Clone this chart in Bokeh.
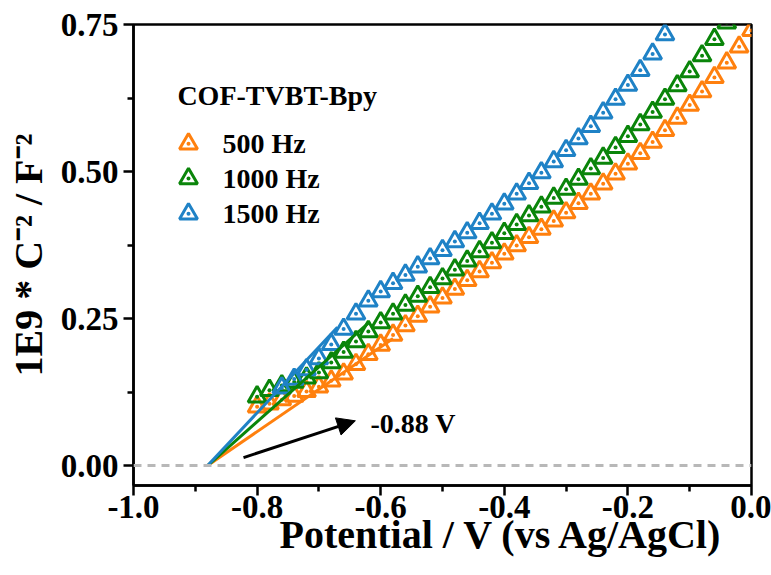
from bokeh.plotting import figure
from bokeh.models import FixedTicker, Span, Arrow, NormalHead, Title
from bokeh.core.properties import value
from bokeh.embed import file_html
from bokeh.resources import INLINE

# ---------------- data ----------------
x_500 = [-0.80, -0.78, -0.76, -0.74, -0.72, -0.70, -0.68, -0.66, -0.64, -0.62, -0.60,
         -0.58, -0.56, -0.54, -0.52, -0.50, -0.48, -0.46, -0.44, -0.42, -0.40,
         -0.38, -0.36, -0.34, -0.32, -0.30, -0.28, -0.26, -0.24, -0.22, -0.20,
         -0.18, -0.16, -0.14, -0.12, -0.10, -0.08, -0.06, -0.04, -0.02, 0.00]
y_500 = [0.100, 0.105, 0.112, 0.118, 0.126, 0.134, 0.144, 0.156, 0.172, 0.189, 0.205,
         0.222, 0.238, 0.254, 0.270, 0.285, 0.300, 0.315, 0.330, 0.345, 0.360,
         0.374, 0.388, 0.402, 0.416, 0.430, 0.446, 0.462, 0.479, 0.496, 0.513,
         0.531, 0.550, 0.570, 0.591, 0.613, 0.636, 0.660, 0.685, 0.712, 0.740]

x_1000 = list(x_500)
y_1000 = [0.117, 0.128, 0.136, 0.142, 0.149, 0.158, 0.175, 0.193, 0.211, 0.228, 0.243,
          0.258, 0.273, 0.288, 0.303, 0.318, 0.333, 0.348, 0.364, 0.379, 0.395,
          0.410, 0.425, 0.440, 0.455, 0.470, 0.487, 0.505, 0.523, 0.541, 0.560,
          0.580, 0.601, 0.623, 0.646, 0.670, 0.697, 0.725, 0.753, 0.780, 0.810]

x_1500 = [-0.76, -0.74, -0.72, -0.70, -0.68, -0.66, -0.64, -0.62, -0.60,
          -0.58, -0.56, -0.54, -0.52, -0.50, -0.48, -0.46, -0.44, -0.42, -0.40,
          -0.38, -0.36, -0.34, -0.32, -0.30, -0.28, -0.26, -0.24, -0.22, -0.20,
          -0.18, -0.16, -0.14, -0.12, -0.10]
y_1500 = [0.132, 0.147, 0.163, 0.182, 0.206, 0.232, 0.258, 0.280, 0.296,
          0.310, 0.324, 0.338, 0.352, 0.366, 0.381, 0.396, 0.412, 0.428, 0.445,
          0.462, 0.480, 0.498, 0.517, 0.536, 0.556, 0.577, 0.600, 0.623, 0.647,
          0.672, 0.700, 0.733, 0.765, 0.795]

# linear fits extrapolated to the flat-band potential
fit_x_500 = [-0.88, -0.58]
fit_y_500 = [0.0, 0.216]
fit_x_1000 = [-0.88, -0.62]
fit_y_1000 = [0.0, 0.242]
fit_x_1500 = [-0.88, -0.67]
fit_y_1500 = [0.0, 0.235]

series_labels = ["500 Hz", "1000 Hz", "1500 Hz"]
legend_title = "COF-TVBT-Bpy"
annotation_text = "-0.88 V"
x_title = "Potential / V (vs Ag/AgCl)"
y_title = "1E9 * C\u207b\u00b2 / F\u207b\u00b2"

x_ticks = [-1.0, -0.8, -0.6, -0.4, -0.2, 0.0]
x_tick_labels = ["-1.0", "-0.8", "-0.6", "-0.4", "-0.2", "0.0"]
x_minor = [-0.9, -0.7, -0.5, -0.3, -0.1]
y_ticks = [0.0, 0.25, 0.5, 0.75]
y_tick_labels = ["0.00", "0.25", "0.50", "0.75"]
y_minor = [0.125, 0.375, 0.625]

# ---------------- style ----------------
colors = ["#ff800e", "#0a850a", "#1f82c6"]
FONT = "Liberation Serif"
MS = 18

p = figure(width=771, height=575, x_range=(-1.0, 0.0), y_range=(-0.034, 0.75),
           output_backend="svg", toolbar_location=None,
           min_border_left=133, min_border_right=20, min_border_top=24, min_border_bottom=90)
p.grid.visible = False
p.outline_line_color = "black"
p.outline_line_width = 2.5
p.background_fill_color = "white"
p.border_fill_color = "white"

p.xaxis.ticker = FixedTicker(ticks=x_ticks, minor_ticks=x_minor)
p.xaxis.major_label_overrides = {t: l for t, l in zip(x_ticks, x_tick_labels)}
p.yaxis.ticker = FixedTicker(ticks=y_ticks, minor_ticks=y_minor)
p.yaxis.major_label_overrides = {t: l for t, l in zip(y_ticks, y_tick_labels)}

for ax in (p.xaxis[0], p.yaxis[0]):
    ax.axis_line_width = 2.5
    ax.major_tick_line_width = 2.5
    ax.minor_tick_line_width = 2.5
    ax.major_tick_out = 10
    ax.major_tick_in = 0
    ax.minor_tick_out = 6
    ax.minor_tick_in = 0
    ax.major_label_text_font = FONT
    ax.major_label_text_font_style = "bold"
    ax.major_label_text_font_size = "33px"
    ax.major_label_text_color = "black"
    ax.axis_label_text_font = FONT
    ax.axis_label_text_font_style = "bold"
    ax.axis_label_text_font_size = "40px"
    ax.axis_label_text_color = "black"

p.yaxis.axis_label = y_title
p.xaxis.major_label_standoff = 0
p.yaxis.major_label_standoff = 5
p.yaxis.axis_label_standoff = 7

# x title placed off-centre as in the reference
p.add_layout(Title(text=x_title, align="left", offset=146, standoff=-22,
                   text_font=FONT, text_font_style="bold", text_font_size="40px",
                   text_color="black"), "below")

# zero line
p.add_layout(Span(location=0.0, dimension="width", line_color="#b8b8b8",
                  line_width=3, line_dash="8 6"))

xs = [x_500, x_1000, x_1500]
ys = [y_500, y_1000, y_1500]
fxs = [fit_x_500, fit_x_1000, fit_x_1500]
fys = [fit_y_500, fit_y_1000, fit_y_1500]

for x, y, c in zip(xs, ys, colors):
    p.scatter(x, y, marker="triangle", size=MS, fill_color=None, line_color=c, line_width=3)
    p.scatter(x, y, marker="circle", size=4, fill_color=c, line_color=None)

for fx, fy, c in zip(fxs, fys, colors):
    p.line(fx, fy, line_color=c, line_width=3)

# legend (manual)
leg_x = -0.911
leg_y = [0.547, 0.488, 0.428]
for yy, c, lab in zip(leg_y, colors, series_labels):
    p.scatter([leg_x], [yy], marker="triangle", size=MS, fill_color=None, line_color=c, line_width=3)
    p.scatter([leg_x], [yy], marker="circle", size=4, fill_color=c, line_color=None)
    p.text([-0.856], [yy], text=[lab], text_font=value(FONT), text_font_style="bold",
           text_font_size="28px", text_baseline="middle", text_color="black")

p.text([-0.929], [0.630], text=[legend_title], text_font=value(FONT), text_font_style="bold",
       text_font_size="28px", text_baseline="alphabetic", text_color="black")

# arrow + annotation
p.add_layout(Arrow(end=NormalHead(size=18, fill_color="black", line_color="black"),
                   x_start=-0.822, y_start=0.0135, x_end=-0.641, y_end=0.076,
                   line_color="black", line_width=3))
p.text([-0.6165], [0.071], text=[annotation_text], text_font=value(FONT), text_font_style="bold",
       text_font_size="28px", text_baseline="alphabetic", text_color="black")

open("out.html", "w").write(file_html(p, INLINE))
